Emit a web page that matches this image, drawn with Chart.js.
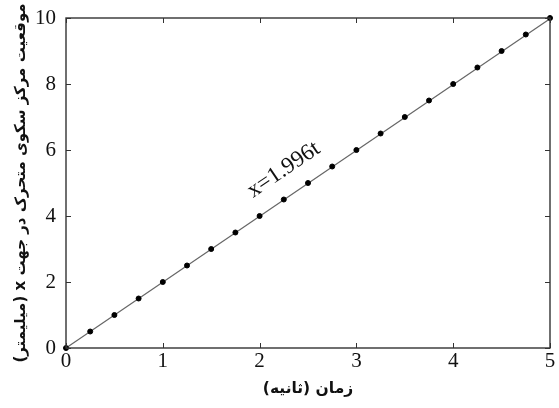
<!DOCTYPE html>
<html>
<head>
<meta charset="utf-8">
<script src="https://cdn.jsdelivr.net/npm/chart.js@4"></script>
<style>
  html, body { margin: 0; padding: 0; background: #fff; }
  #wrap { width: 559px; height: 408px; }
</style>
</head>
<body>
<div id="wrap"><canvas id="c" width="559" height="408"></canvas></div>
<script>
// measured time (s) and position (mm)
const times = [0, 0.25, 0.5, 0.75, 1, 1.25, 1.5, 1.75, 2, 2.25, 2.5, 2.75, 3, 3.25, 3.5, 3.75, 4, 4.25, 4.5, 4.75, 5]
const positions = [0, 0.5, 1.0, 1.5, 2.0, 2.5, 3.0, 3.5, 4.0, 4.5, 5.0, 5.5, 6.0, 6.5, 7.0, 7.5, 8.0, 8.5, 9.0, 9.5, 10.0]
const fitT = [0, 5]
const fitX = [0, 9.98]
const fitLabel = "x=1.996t"
const labelAt = [2.25, 5.4]
const xTicks = [0, 1, 2, 3, 4, 5]
const yTicks = [0, 2, 4, 6, 8, 10]
// RLE ... PDF so the canvas lays the Persian titles out right-to-left
const xTitle = "\u202Bزمان (ثانیه)\u202C"
const yTitle = "\u202Bموقعیت مرکز سکوی متحرک در جهت x (میلیمتر)\u202C"

const serif = "'Liberation Serif', 'DejaVu Serif', serif"
const farsi = "'DejaVu Sans', sans-serif"

const frame = {
  id: "frame",
  afterDatasetsDraw(chart) {
    const { ctx, chartArea: a, scales } = chart
    const len = 5
    ctx.save()
    ctx.strokeStyle = "#333"
    ctx.lineWidth = 1
    ctx.beginPath()
    xTicks.forEach(v => {
      const px = Math.round(scales.x.getPixelForValue(v)) + 0.5
      ctx.moveTo(px, a.bottom); ctx.lineTo(px, a.bottom - len)
      ctx.moveTo(px, a.top); ctx.lineTo(px, a.top + len)
    })
    yTicks.forEach(v => {
      const py = Math.round(scales.y.getPixelForValue(v)) + 0.5
      ctx.moveTo(a.left, py); ctx.lineTo(a.left + len, py)
      ctx.moveTo(a.right, py); ctx.lineTo(a.right - len, py)
    })
    ctx.stroke()
    ctx.lineWidth = 1.4
    ctx.strokeRect(a.left, a.top, a.right - a.left, a.bottom - a.top)

    // fit equation written along the line
    const x0 = scales.x.getPixelForValue(fitT[0]), y0 = scales.y.getPixelForValue(fitX[0])
    const x1 = scales.x.getPixelForValue(fitT[1]), y1 = scales.y.getPixelForValue(fitX[1])
    const ang = Math.atan2(y1 - y0, x1 - x0)
    ctx.translate(scales.x.getPixelForValue(labelAt[0]), scales.y.getPixelForValue(labelAt[1]))
    ctx.rotate(ang)
    ctx.fillStyle = "#111"
    ctx.font = "23px " + serif
    ctx.textAlign = "center"
    ctx.textBaseline = "middle"
    ctx.fillText(fitLabel, 0, 0)
    ctx.restore()
  }
}

new Chart(document.getElementById("c"), {
  type: "scatter",
  data: {
    datasets: [
      {
        type: "line",
        data: fitT.map((t, i) => ({ x: t, y: fitX[i] })),
        borderColor: "#666",
        borderWidth: 1.2,
        pointRadius: 0,
        clip: false,
        order: 2
      },
      {
        data: times.map((t, i) => ({ x: t, y: positions[i] })),
        backgroundColor: "#000",
        borderColor: "#000",
        pointRadius: 2.5,
        clip: false,
        order: 1
      }
    ]
  },
  plugins: [frame],
  options: {
    responsive: false,
    animation: false,
    events: [],
    layout: { padding: { left: 8, top: 18, right: 9, bottom: 6 } },
    plugins: { legend: { display: false }, tooltip: { enabled: false } },
    scales: {
      x: {
        type: "linear",
        min: 0, max: 5,
        afterFit: s => { s.height = 54; s.paddingLeft = 0; s.paddingRight = 0 },
        afterBuildTicks: s => { s.ticks = xTicks.map(v => ({ value: v })) },
        grid: { display: false, drawTicks: false },
        border: { display: false },
        ticks: { color: "#111", font: { family: serif, size: 21 }, padding: 1 },
        title: { display: true, text: xTitle, color: "#111", font: { family: farsi, size: 15.5, weight: "bold" }, padding: { top: 0 } }
      },
      y: {
        type: "linear",
        min: 0, max: 10,
        afterFit: s => { s.width = 58; s.paddingTop = 0; s.paddingBottom = 0 },
        afterBuildTicks: s => { s.ticks = yTicks.map(v => ({ value: v })) },
        grid: { display: false, drawTicks: false },
        border: { display: false },
        ticks: { color: "#111", font: { family: serif, size: 21 }, padding: 10 },
        title: { display: true, text: yTitle, color: "#111", font: { family: farsi, size: 15, weight: "bold" }, padding: { bottom: 0 } }
      }
    }
  }
})
</script>
</body>
</html>
